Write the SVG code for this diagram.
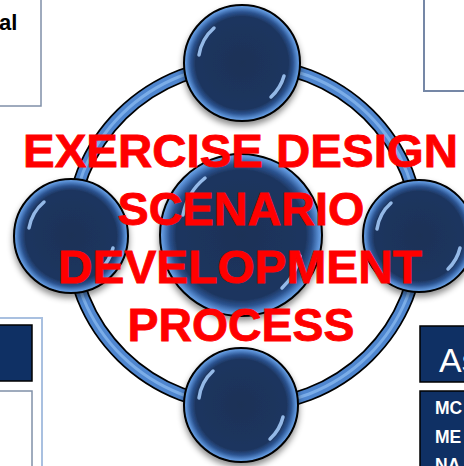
<svg xmlns="http://www.w3.org/2000/svg" width="464" height="466" viewBox="0 0 464 466">
<defs>
<radialGradient id="ball" cx="50%" cy="50%" r="50%">
<stop offset="0" stop-color="#1c3257"/>
<stop offset="0.8" stop-color="#1d355f"/>
<stop offset="0.88" stop-color="#2b5390"/>
<stop offset="0.96" stop-color="#5a90d6"/>
<stop offset="1" stop-color="#72a8e8"/>
</radialGradient>
<filter id="sh" x="-20%" y="-20%" width="140%" height="150%">
<feDropShadow dx="0" dy="4" stdDeviation="3" flood-color="#000" flood-opacity="0.45"/>
</filter>
</defs>
<style>
.ball{fill:url(#ball);stroke:#000;stroke-width:2;filter:url(#sh)}
.hl{fill:none;stroke:#a9d0ff;stroke-width:3.5;stroke-linecap:round;opacity:0.85}
.title{font-family:"Liberation Sans",Arial,sans-serif;font-weight:bold;font-size:47px;fill:#ff0000;stroke:#ff0000;stroke-width:0.8;text-anchor:middle}
.navy{fill:#0f3064;stroke:#000;stroke-width:1.5}
.wt{font-family:"Liberation Sans",Arial,sans-serif;fill:#fff}
</style>
<rect width="464" height="466" fill="#fff"/>

<g id="box-top-left">
<rect x="-5" y="-5" width="46" height="111" fill="#fff" stroke="#7f8fa8" stroke-width="1.5"/>
<text x="-1" y="30" font-family="'Liberation Sans',Arial,sans-serif" font-weight="bold" font-size="22" fill="#000">al</text>
</g>
<g id="box-top-right">
<rect x="424" y="-5" width="50" height="96" fill="#fff" stroke="#7587a6" stroke-width="2"/>
</g>
<g id="box-bottom-left">
<rect x="-5" y="318" width="47" height="160" fill="#fff" stroke="#a9c0e0" stroke-width="2"/>
<rect x="-5" y="325" width="37" height="56" class="navy"/>
<rect x="-5" y="391" width="37" height="85" fill="#fff" stroke="#8090a8" stroke-width="1.5"/>
</g>
<g id="box-bottom-right">
<rect x="420" y="326" width="54" height="56" class="navy"/>
<text x="439" y="372" class="wt" font-size="34">As</text>
<rect x="420" y="391" width="54" height="85" class="navy"/>
<text x="435" y="414" class="wt" font-weight="bold" font-size="17.5">MC</text>
<text x="435" y="443" class="wt" font-weight="bold" font-size="17.5">ME</text>
<text x="435" y="471" class="wt" font-weight="bold" font-size="17.5">NA</text>
</g>

<g id="connectors">
<ellipse cx="245" cy="235" rx="174" ry="171" fill="none" stroke="#000" stroke-width="14"/>
<ellipse cx="245" cy="235" rx="174" ry="171" fill="none" stroke="#4f86cf" stroke-width="10.5"/>
<ellipse cx="245" cy="235" rx="174" ry="171" fill="none" stroke="#86b6ee" stroke-width="3" opacity="0.8"/>
</g>

<g id="node-center">
<circle cx="241" cy="235" r="81" class="ball"/>
<path d="M183 215 A62 62 0 0 1 205 178" class="hl"/>
<path d="M300 256 A62 62 0 0 1 282 288" class="hl"/>
</g>
<g id="node-top">
<circle cx="242" cy="63" r="58" class="ball"/>
<path d="M199 55 A45 45 0 0 1 214 28" class="hl"/>
<path d="M284 76 A45 45 0 0 1 271 97" class="hl"/>
</g>
<g id="node-left">
<circle cx="71" cy="236" r="57" class="ball"/>
<path d="M29 228 A44 44 0 0 1 44 202" class="hl"/>
<path d="M113 248 A44 44 0 0 1 100 270" class="hl"/>
</g>
<g id="node-right">
<circle cx="419" cy="236" r="56" class="ball"/>
<path d="M377 229 A43 43 0 0 1 391 203" class="hl"/>
<path d="M460 248 A43 43 0 0 1 448 269" class="hl"/>
</g>
<g id="node-bottom">
<circle cx="241" cy="405" r="57" class="ball"/>
<path d="M199 398 A44 44 0 0 1 213 371" class="hl"/>
<path d="M283 417 A44 44 0 0 1 270 439" class="hl"/>
</g>

<g id="title">
<text x="240.5" y="167" class="title" textLength="435" lengthAdjust="spacingAndGlyphs">EXERCISE DESIGN</text>
<text x="241" y="225" class="title" textLength="247" lengthAdjust="spacingAndGlyphs">SCENARIO</text>
<text x="240" y="283" class="title" textLength="364" lengthAdjust="spacingAndGlyphs">DEVELOPMENT</text>
<text x="241" y="341" class="title" textLength="227" lengthAdjust="spacingAndGlyphs">PROCESS</text>
</g>
</svg>
